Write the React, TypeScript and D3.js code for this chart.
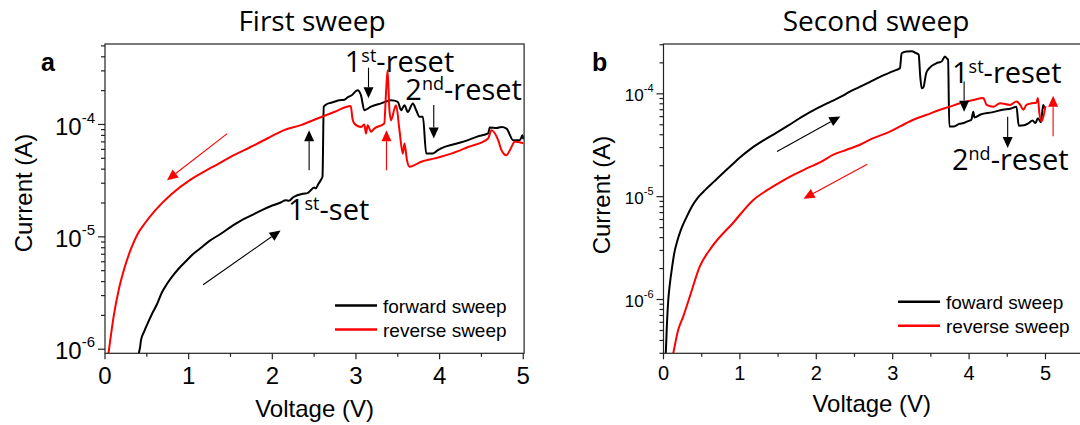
import React from 'react';
import * as d3 from 'd3';

type Pt = [number, number];

// ---------- tick values ----------
const xMajorTicks = [0, 1, 2, 3, 4, 5];
const xMinorTicks = [0.5, 1.5, 2.5, 3.5, 4.5, 5.5];
const yMajorTicks = [1e-6, 1e-5, 1e-4];
const yMajorExponents = ['-6', '-5', '-4'];
const yMinorTicksA = [2e-6, 3e-6, 4e-6, 5e-6, 6e-6, 7e-6, 8e-6, 9e-6, 2e-5, 3e-5, 4e-5, 5e-5, 6e-5, 7e-5, 8e-5, 9e-5, 2e-4, 3e-4, 4e-4, 5e-4];
const yMinorTicksB = [3e-7, 4e-7, 5e-7, 6e-7, 7e-7, 8e-7, 9e-7, 2e-6, 3e-6, 4e-6, 5e-6, 6e-6, 7e-6, 8e-6, 9e-6, 2e-5, 3e-5, 4e-5, 5e-5, 6e-5, 7e-5, 8e-5, 9e-5, 2e-4, 3e-4];

// ---------- panel a: first sweep (V, I) ----------
const firstForward: Pt[] = [
  [0.40, 9.0e-7], [0.42, 1.05e-6], [0.43, 1.2e-6], [0.47, 1.45e-6], [0.51, 1.7e-6], [0.56, 2.05e-6],
  [0.62, 2.5e-6], [0.68, 3.2e-6], [0.74, 3.8e-6], [0.80, 4.4e-6], [0.88, 5.2e-6], [0.97, 6.1e-6],
  [1.05, 7.0e-6], [1.13, 7.8e-6], [1.25, 9.2e-6], [1.38, 1.06e-5], [1.50, 1.22e-5], [1.63, 1.40e-5],
  [1.75, 1.55e-5], [1.87, 1.72e-5], [2.00, 1.90e-5], [2.10, 2.02e-5], [2.16, 2.12e-5], [2.20, 2.10e-5],
  [2.25, 2.25e-5], [2.37, 2.42e-5], [2.42, 2.45e-5], [2.46, 2.6e-5], [2.50, 2.75e-5], [2.52, 2.7e-5],
  [2.55, 2.95e-5], [2.58, 3.2e-5], [2.60, 3.45e-5], [2.615, 1.44e-4], [2.64, 1.50e-4], [2.70, 1.56e-4],
  [2.74, 1.59e-4], [2.80, 1.64e-4], [2.86, 1.66e-4], [2.90, 1.74e-4], [2.95, 1.82e-4], [3.02, 2.02e-4],
  [3.06, 1.82e-4], [3.10, 1.34e-4], [3.18, 1.44e-4], [3.30, 1.54e-4], [3.42, 1.64e-4], [3.50, 1.59e-4],
  [3.54, 1.34e-4], [3.58, 1.48e-4], [3.62, 1.29e-4], [3.68, 1.54e-4], [3.72, 1.34e-4], [3.76, 1.17e-4],
  [3.80, 1.17e-4], [3.84, 5.52e-5], [3.92, 5.52e-5], [3.98, 5.91e-5], [4.06, 6.31e-5], [4.15, 6.6e-5],
  [4.25, 6.9e-5], [4.34, 7.25e-5], [4.45, 7.8e-5], [4.58, 8.32e-5], [4.60, 9.4e-5], [4.68, 9.3e-5],
  [4.74, 9.5e-5], [4.80, 9.2e-5], [4.88, 7.25e-5], [4.96, 7.25e-5], [4.99, 8.0e-5], [5.0, 7.4e-5]
];
const firstReverse: Pt[] = [
  [5.0, 6.8e-5], [4.90, 7.0e-5], [4.84, 5.9e-5], [4.80, 5.33e-5], [4.74, 5.9e-5], [4.70, 7.25e-5],
  [4.62, 8.9e-5], [4.58, 7.5e-5], [4.34, 6.3e-5], [4.14, 5.5e-5], [3.94, 4.99e-5], [3.78, 4.66e-5],
  [3.70, 4.35e-5], [3.64, 4.2e-5], [3.61, 4.8e-5], [3.58, 6.76e-5], [3.56, 5.5e-5], [3.52, 8.9e-5],
  [3.48, 1.48e-4], [3.46, 1.38e-4], [3.42, 1.09e-4], [3.40, 1.34e-4], [3.378, 3.04e-4], [3.358, 1.82e-4],
  [3.338, 1.02e-4], [3.22, 9.2e-5], [3.18, 8.6e-5], [3.14, 9.86e-5], [3.12, 8.3e-5], [3.10, 1.0e-4],
  [3.06, 9.5e-5], [2.98, 1.02e-4], [2.958, 1.13e-4], [2.938, 1.46e-4], [2.74, 1.29e-4], [2.54, 1.13e-4],
  [2.34, 9.86e-5], [2.14, 8.9e-5], [1.94, 7.5e-5], [1.74, 6.3e-5], [1.54, 5.33e-5], [1.34, 4.4e-5],
  [1.21, 3.9e-5], [1.01, 3.18e-5], [0.80, 2.42e-5], [0.60, 1.72e-5], [0.47, 1.3e-5], [0.39, 1.06e-5],
  [0.31, 7.8e-6], [0.23, 5.2e-6], [0.165, 3.4e-6], [0.103, 1.95e-6], [0.062, 1.19e-6], [0.04, 9.0e-7]
];

// ---------- panel b: second sweep (V, I) ----------
const secondForward: Pt[] = [
  [0.03, 3.0e-7], [0.042, 5.1e-7], [0.063, 1.0e-6], [0.085, 1.45e-6], [0.11, 2.0e-6], [0.14, 2.8e-6],
  [0.18, 3.7e-6], [0.23, 4.8e-6], [0.30, 6.3e-6], [0.37, 8.0e-6], [0.45, 9.8e-6], [0.55, 1.17e-5],
  [0.66, 1.4e-5], [0.78, 1.7e-5], [0.90, 2.05e-5], [1.0, 2.4e-5], [1.15, 2.95e-5], [1.32, 3.57e-5],
  [1.47, 4.15e-5], [1.63, 4.9e-5], [1.80, 5.9e-5], [1.99, 7.1e-5], [2.1, 7.8e-5], [2.22, 8.6e-5],
  [2.35, 9.6e-5], [2.44, 1.05e-4], [2.55, 1.15e-4], [2.67, 1.27e-4], [2.78, 1.4e-4], [2.89, 1.53e-4],
  [3.0, 1.65e-4], [3.05, 1.71e-4], [3.095, 1.77e-4], [3.117, 2.48e-4], [3.18, 2.58e-4], [3.25, 2.6e-4],
  [3.30, 2.5e-4], [3.34, 2.4e-4], [3.36, 1.5e-4], [3.38, 1.13e-4], [3.40, 1.15e-4], [3.44, 1.6e-4],
  [3.48, 1.78e-4], [3.57, 1.98e-4], [3.64, 2.06e-4], [3.685, 2.3e-4], [3.71, 2.2e-4], [3.725, 2.15e-4],
  [3.741, 4.82e-5], [3.80, 4.82e-5], [3.87, 5.1e-5], [3.93, 5.2e-5], [3.98, 5.4e-5], [4.03, 5.6e-5],
  [4.055, 6.7e-5], [4.07, 5.9e-5], [4.15, 6.3e-5], [4.30, 6.6e-5], [4.44, 7.0e-5], [4.55, 7.2e-5],
  [4.62, 7.5e-5], [4.65, 4.9e-5], [4.72, 4.95e-5], [4.78, 5.2e-5], [4.83, 5.5e-5], [4.87, 5.2e-5],
  [4.90, 5.8e-5], [4.94, 5.3e-5], [4.97, 7.8e-5], [4.99, 7.2e-5]
];
const secondReverse: Pt[] = [
  [5.0, 7.6e-5], [4.95, 5.4e-5], [4.92, 6.5e-5], [4.90, 9.1e-5], [4.88, 8.2e-5], [4.82, 8.1e-5],
  [4.75, 7.8e-5], [4.71, 7.0e-5], [4.67, 7.8e-5], [4.62, 8.4e-5], [4.535, 7.8e-5], [4.405, 8.1e-5],
  [4.317, 7.5e-5], [4.23, 7.8e-5], [4.186, 9.1e-5], [4.055, 8.7e-5], [3.88, 8.1e-5], [3.75, 7.5e-5],
  [3.62, 7.0e-5], [3.445, 6.25e-5], [3.27, 5.6e-5], [3.096, 4.82e-5], [2.92, 4.15e-5], [2.746, 3.71e-5],
  [2.572, 3.2e-5], [2.398, 2.86e-5], [2.223, 2.56e-5], [2.048, 2.15e-5], [1.874, 1.88e-5], [1.70, 1.63e-5],
  [1.525, 1.38e-5], [1.35, 1.15e-5], [1.18, 9.35e-6], [0.91, 5.55e-6], [0.64, 3.3e-6], [0.47, 2.05e-6],
  [0.35, 1.1e-6], [0.26, 6.9e-7], [0.194, 5.1e-7], [0.128, 3.0e-7]
];

// ---------- annotations (data coordinates) ----------
type Arrow = { from: Pt; to: Pt; color: string };
const firstArrows: Arrow[] = [
  { from: [1.461, 8.3e-5], to: [0.741, 3.19e-5], color: '#ff0000' },
  { from: [1.173, 3.75e-6], to: [2.099, 1.14e-5], color: '#000' },
  { from: [2.44, 3.91e-5], to: [2.44, 8.9e-5], color: '#000' },
  { from: [3.365, 3.91e-5], to: [3.365, 8.9e-5], color: '#ff0000' },
  { from: [3.15, 3.2e-4], to: [3.15, 1.71e-4], color: '#000' },
  { from: [3.93, 1.49e-4], to: [3.93, 7.5e-5], color: '#000' }
];
const secondArrows: Arrow[] = [
  { from: [1.486, 2.75e-5], to: [2.315, 6.03e-5], color: '#000' },
  { from: [2.667, 2.07e-5], to: [1.833, 9.57e-6], color: '#ff0000' },
  { from: [3.935, 1.32e-4], to: [3.935, 6.7e-5], color: '#000' },
  { from: [4.505, 6.0e-5], to: [4.505, 2.97e-5], color: '#000' },
  { from: [5.10, 3.86e-5], to: [5.10, 9.55e-5], color: '#ff0000' }
];
type Label = { at: Pt; main: string; sup: string; rest: string };
const firstLabels: Label[] = [
  { at: [2.866, 2.94e-4], main: '1', sup: 'st', rest: '-reset' },
  { at: [3.59, 1.64e-4], main: '2', sup: 'nd', rest: '-reset' },
  { at: [2.187, 1.41e-5], main: '1', sup: 'st', rest: '-set' }
];
const secondLabels: Label[] = [
  { at: [3.776, 1.27e-4], main: '1', sup: 'st', rest: '-reset' },
  { at: [3.776, 1.83e-5], main: '2', sup: 'nd', rest: '-reset' }
];

const legendNamesA = ['forward sweep', 'reverse sweep'];
const legendNamesB = ['foward sweep', 'reverse sweep'];
const seriesColors = ['#000000', '#ff0000'];

const ARIAL = "'Liberation Sans', Arial, sans-serif";
const CAL = "'Open Sans', 'Noto Sans', sans-serif";

type PanelProps = {
  id: string;
  letter: string;
  title: string;
  xRange: [number, number];
  xMax: number;
  yDomain: [number, number];
  series: Pt[][];
  arrows: Arrow[];
  labels: Label[];
  legend: string[];
  yMinor: number[];
  tickFont: number;
  yTickFont: number;
  yTickSup: number;
  legendOffset: [number, number];
  titleX: number;
  letterX: number;
  yTitleX: number;
  yTitleY: number;
  xTitleY: number;
  xTickBaseline: number;
};

const TOP = 44;
const BOTTOM = 353.3;

function ArrowMark({ a, x, y }: { a: Arrow; x: any; y: any }) {
  const x1 = x(a.from[0]), y1 = y(a.from[1]);
  const x2 = x(a.to[0]), y2 = y(a.to[1]);
  const dx = x2 - x1, dy = y2 - y1;
  const len = Math.hypot(dx, dy);
  const ux = dx / len, uy = dy / len;
  const hl = 11, hw = 5;
  const bx = x2 - ux * hl, by = y2 - uy * hl;
  const pts = [
    [x2, y2],
    [bx - uy * hw, by + ux * hw],
    [bx + uy * hw, by - ux * hw]
  ].map(p => p.join(',')).join(' ');
  return (
    <g>
      <line x1={x1} y1={y1} x2={bx} y2={by} stroke={a.color} strokeWidth={1.1} />
      <polygon points={pts} fill={a.color} />
    </g>
  );
}

function Panel(p: PanelProps) {
  const x = d3.scaleLinear().domain([0, p.xMax]).range(p.xRange);
  const y = d3.scaleLog().domain(p.yDomain).range([BOTTOM, TOP]);
  const line = d3.line<Pt>().x(d => x(d[0])).y(d => y(d[1])).curve(d3.curveMonotoneX);
  const left = p.xRange[0];
  const right = p.xRange[1];
  const midX = (left + Math.min(right, 1080)) / 2;
  const axisColor = '#222';
  return (
    <g>
      <defs>
        <clipPath id={`clip-${p.id}`}>
          <rect x={left} y={TOP} width={right - left} height={BOTTOM - TOP} />
        </clipPath>
      </defs>
      {/* title and panel letter */}
      <text x={p.titleX} y={31} textAnchor="middle" fontFamily={CAL} fontSize={28} fill="#000">{p.title}</text>
      <text x={p.letterX} y={70.5} fontFamily={ARIAL} fontWeight="bold" fontSize={25} fill="#000">{p.letter}</text>

      {/* data */}
      <g clipPath={`url(#clip-${p.id})`}>
        {p.series.map((s, i) => {
          const sorted = [...s].sort((a, b) => a[0] - b[0]);
          return (
            <path key={i} d={line(sorted) || ''} fill="none" stroke={seriesColors[i]} strokeWidth={2} strokeLinejoin="round" />
          );
        })}
      </g>

      {/* frame */}
      <rect x={left} y={TOP} width={right - left} height={BOTTOM - TOP} fill="none" stroke={axisColor} strokeWidth={1.2} />

      {/* x ticks */}
      {xMajorTicks.map(t => (
        <g key={`xm${t}`}>
          <line x1={x(t)} x2={x(t)} y1={BOTTOM} y2={BOTTOM + 6} stroke={axisColor} strokeWidth={1.2} />
          <text x={x(t)} y={p.xTickBaseline} textAnchor="middle" fontFamily={ARIAL} fontSize={p.tickFont} fill="#000">{t}</text>
        </g>
      ))}
      {xMinorTicks.filter(t => t <= p.xMax).map(t => (
        <line key={`xn${t}`} x1={x(t)} x2={x(t)} y1={BOTTOM} y2={BOTTOM + 3.5} stroke={axisColor} strokeWidth={1.2} />
      ))}

      {/* y ticks */}
      {yMajorTicks.map((t, i) => (
        <g key={`ym${t}`}>
          <line x1={left - 7} x2={left} y1={y(t)} y2={y(t)} stroke={axisColor} strokeWidth={1.2} />
          <text x={left - 10} y={y(t) + p.yTickFont * 0.42} textAnchor="end" fontFamily={ARIAL} fontSize={p.yTickFont} fill="#000">
            <tspan>10</tspan>
            <tspan fontSize={p.yTickSup} dy={-p.yTickFont * 0.5}>{yMajorExponents[i]}</tspan>
          </text>
        </g>
      ))}
      {p.yMinor.map(t => (
        <line key={`yn${t}`} x1={left - 4} x2={left} y1={y(t)} y2={y(t)} stroke={axisColor} strokeWidth={1.2} />
      ))}

      {/* axis titles */}
      <text x={midX} y={p.xTitleY} textAnchor="middle" fontFamily={ARIAL} fontSize={24} fill="#000">Voltage (V)</text>
      <text transform={`translate(${p.yTitleX},${p.yTitleY}) rotate(-90)`} textAnchor="middle" fontFamily={ARIAL} fontSize={24} fill="#000">Current (A)</text>

      {/* arrows */}
      {p.arrows.map((a, i) => <ArrowMark key={i} a={a} x={x} y={y} />)}

      {/* annotations */}
      {p.labels.map((l, i) => (
        <text key={i} x={x(l.at[0])} y={y(l.at[1])} fontFamily={CAL} fontSize={29} fill="#000">
          <tspan>{l.main}</tspan>
          <tspan fontSize={18} dy={-10}>{l.sup}</tspan>
          <tspan dy={10}>{l.rest}</tspan>
        </text>
      ))}

      {/* legend */}
      {p.legend.map((name, i) => (
        <g key={name}>
          <line x1={p.legendOffset[0]} x2={p.legendOffset[0] + 42} y1={p.legendOffset[1] + i * 24} y2={p.legendOffset[1] + i * 24}
            stroke={seriesColors[i]} strokeWidth={2.5} />
          <text x={p.legendOffset[0] + 48} y={p.legendOffset[1] + i * 24 + 7} fontFamily={ARIAL} fontSize={19} fill="#000">{name}</text>
        </g>
      ))}
    </g>
  );
}

export default function App() {
  return (
    <svg width={1080} height={425} viewBox="0 0 1080 425" style={{ position: 'absolute', left: 0, top: 0, background: '#fff' }}>
      <rect x={0} y={0} width={1080} height={425} fill="#fff" />
      <Panel
        id="a" letter="a" title="First sweep"
        xRange={[105, 524.1]} xMax={5.01} yDomain={[9.2e-7, 5.2e-4]}
        series={[firstForward, firstReverse]} arrows={firstArrows} labels={firstLabels}
        legend={legendNamesA} yMinor={yMinorTicksA}
        tickFont={24} yTickFont={24} yTickSup={15}
        legendOffset={[335, 305.5]} titleX={312} letterX={41}
        yTitleX={32} yTitleY={193} xTitleY={417} xTickBaseline={384}
      />
      <Panel
        id="b" letter="b" title="Second sweep"
        xRange={[663.5, 1087.5]} xMax={5.55} yDomain={[3.0e-7, 3.05e-4]}
        series={[secondForward, secondReverse]} arrows={secondArrows} labels={secondLabels}
        legend={legendNamesB} yMinor={yMinorTicksB}
        tickFont={20} yTickFont={17} yTickSup={11}
        legendOffset={[898, 301.7]} titleX={876} letterX={592}
        yTitleX={610} yTitleY={195} xTitleY={412} xTickBaseline={380}
      />
    </svg>
  );
}
